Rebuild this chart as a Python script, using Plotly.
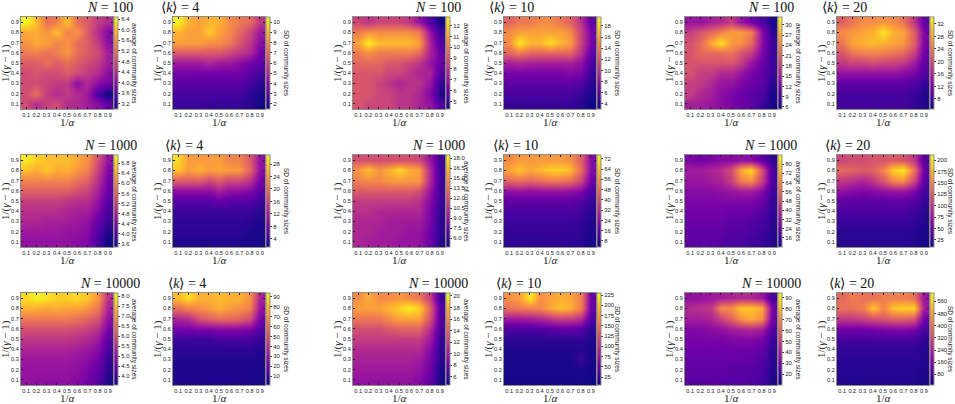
import plotly.graph_objects as go

W, H = 955, 404

# grid of the simulation parameters (1/alpha on x, 1/(gamma-1) on y)
grid = [0.1, 0.2, 0.3, 0.4, 0.5, 0.6, 0.7, 0.8, 0.9]
grid_y = grid[::-1]  # rows of every z array go from 0.9 (top) to 0.1 (bottom)

sizes_N = [100, 1000, 10000]
degrees_k = [4, 10, 20]

# ---- N = 100 ----
avg_n100_k4 = [
    [6.5, 6.0, 5.2, 5.4, 6.0, 5.2, 5.0, 4.6, 4.4],
    [5.8, 5.8, 5.6, 6.0, 5.4, 5.6, 5.0, 4.4, 3.9],
    [5.6, 5.8, 5.7, 5.4, 5.6, 5.2, 5.0, 4.6, 4.0],
    [5.3, 5.4, 5.2, 5.4, 5.6, 5.2, 5.0, 4.8, 4.2],
    [5.0, 5.0, 5.2, 5.0, 5.2, 5.0, 4.8, 4.6, 4.2],
    [4.8, 4.9, 4.8, 4.8, 5.0, 4.8, 4.6, 4.4, 4.0],
    [4.8, 4.8, 4.7, 4.6, 4.6, 4.0, 4.4, 4.0, 3.8],
    [4.8, 5.2, 4.6, 4.4, 4.6, 4.4, 4.2, 3.4, 3.0],
    [4.8, 4.4, 4.7, 4.8, 4.4, 4.4, 4.2, 4.0, 3.6],
]
sd_n100_k4 = [
    [10.4, 9.0, 8.5, 9.0, 9.0, 8.0, 7.5, 7.0, 5.5],
    [9.0, 8.5, 8.5, 9.5, 8.5, 8.0, 7.0, 6.0, 4.5],
    [8.5, 8.5, 8.5, 8.0, 8.0, 7.5, 6.5, 5.5, 4.0],
    [6.5, 6.5, 6.5, 6.5, 6.5, 6.0, 5.5, 5.0, 3.5],
    [4.5, 4.5, 4.5, 5.0, 4.5, 4.5, 4.0, 3.5, 3.0],
    [3.5, 3.5, 3.5, 3.5, 3.5, 3.5, 3.5, 3.0, 2.5],
    [3.0, 3.0, 3.0, 3.0, 3.0, 3.0, 3.0, 2.5, 2.0],
    [2.5, 2.5, 2.5, 2.5, 2.5, 2.5, 2.5, 2.0, 1.8],
    [2.3, 2.3, 2.3, 2.3, 2.2, 2.2, 2.2, 2.0, 1.6],
]
avg_n100_k10 = [
    [8.5, 8.0, 8.5, 8.5, 8.5, 8.0, 7.0, 5.5, 4.4],
    [10.0, 10.5, 10.5, 10.5, 10.5, 10.5, 10.0, 7.0, 5.0],
    [11.0, 12.6, 11.5, 11.5, 11.5, 11.5, 11.0, 7.5, 5.5],
    [10.0, 10.5, 10.0, 10.0, 10.0, 10.0, 9.5, 7.5, 6.0],
    [9.5, 9.5, 9.5, 9.0, 9.0, 8.5, 8.0, 7.0, 6.0],
    [9.0, 9.0, 9.0, 8.5, 8.5, 8.0, 7.5, 7.5, 5.5],
    [9.0, 9.0, 8.5, 8.0, 7.5, 8.0, 8.0, 7.0, 5.0],
    [9.0, 9.0, 8.5, 8.5, 8.0, 8.0, 7.5, 6.5, 4.6],
    [9.0, 8.5, 8.5, 8.5, 8.0, 8.0, 7.5, 7.0, 5.5],
]
sd_n100_k10 = [
    [13, 14, 14, 15, 15, 14, 13, 10, 6],
    [15, 16, 16, 16, 16, 16, 15, 11, 7],
    [15, 19, 17, 17, 18.5, 17, 16, 11, 7],
    [13, 14, 13, 13, 13, 13, 13, 10, 6],
    [9, 9.5, 9, 9, 9, 9, 9, 8, 5],
    [7, 7, 7, 7, 7, 7, 7.5, 7, 4.5],
    [6, 6, 6, 6, 6, 6, 6, 5.5, 4],
    [5, 5, 5, 5, 5, 5, 5, 4.5, 3.5],
    [4.5, 4.5, 4.5, 4.5, 4.5, 4.5, 4.5, 4, 3.2],
]
avg_n100_k20 = [
    [14, 14, 15, 16, 18, 14, 11, 9, 6],
    [18, 20, 22, 24, 26, 26, 24, 13, 7],
    [20, 22, 27, 31, 26, 25, 22, 13, 8],
    [20, 22, 22, 22, 23, 20, 18, 12, 8],
    [20, 20, 20, 20, 20, 18, 14, 11, 8],
    [20, 18, 18, 16, 16, 14, 12, 10, 8],
    [18, 18, 16, 14, 14, 12, 11, 10, 7],
    [18, 16, 15, 13, 12, 11, 10, 9, 6],
    [15, 15, 14, 13, 12, 11, 10, 8, 6],
]
sd_n100_k20 = [
    [22, 24, 26, 26, 27, 26, 24, 18, 10],
    [26, 27, 28, 29, 33, 29, 28, 22, 12],
    [24, 28, 29, 30, 29, 28, 27, 22, 12],
    [21, 24, 25, 25, 25, 24, 23, 19, 11],
    [18, 19, 19, 20, 19, 19, 18, 15, 10],
    [14, 14, 14, 14, 14, 14, 13, 12, 9],
    [10, 10, 10, 10, 10, 10, 10, 9, 7],
    [8, 8, 8, 8, 8, 8, 8, 7.5, 6],
    [8, 8, 8, 8, 8, 8, 8, 7, 6],
]

# ---- N = 1000 ----
avg_n1000_k4 = [
    [7.0, 6.8, 6.6, 6.6, 6.6, 6.4, 6.2, 5.4, 4.6],
    [6.6, 6.4, 6.7, 6.4, 6.5, 6.2, 6.0, 5.2, 4.4],
    [6.0, 6.0, 6.0, 6.0, 6.0, 5.8, 5.6, 5.0, 4.3],
    [5.6, 5.6, 5.6, 5.6, 5.6, 5.4, 5.3, 4.8, 4.2],
    [5.2, 5.2, 5.2, 5.2, 5.1, 5.0, 5.0, 4.6, 4.0],
    [5.0, 5.0, 5.0, 5.0, 4.9, 4.8, 4.8, 4.4, 3.9],
    [4.9, 4.9, 4.8, 4.8, 4.8, 4.7, 4.6, 4.2, 3.8],
    [4.7, 4.7, 4.7, 4.7, 4.6, 4.6, 4.5, 4.0, 3.6],
    [4.6, 4.6, 4.6, 4.6, 4.6, 4.5, 4.4, 3.9, 3.5],
]
sd_n1000_k4 = [
    [29, 24, 24, 24, 24, 22, 22, 18, 10],
    [27, 24, 26, 24, 25, 24, 24, 19, 10],
    [18, 18, 18, 16, 18, 16, 16, 14, 8],
    [10, 10, 10, 10, 12, 10, 10, 9, 6],
    [6, 6, 6, 6, 7, 6, 6, 6, 4],
    [4, 4, 4, 4, 4, 4, 4, 4, 3],
    [3.5, 3.5, 3.5, 3.5, 3.5, 3.5, 3.5, 3, 2.5],
    [3, 3, 3, 3, 3, 3, 3, 2.5, 2],
    [2.5, 2.5, 2.5, 2.5, 2.5, 2.5, 2.5, 2.2, 2],
]
avg_n1000_k10 = [
    [12, 12, 12, 12, 12, 12, 11.5, 9, 6],
    [15, 16.5, 15, 16, 17.5, 16, 15.5, 10, 6],
    [14, 14.5, 14.5, 15, 15, 15, 15, 10, 6],
    [12.5, 12.5, 12.5, 12.5, 12.5, 12.5, 12, 9, 6],
    [11, 11, 11, 11, 11, 11, 10.5, 8.5, 6],
    [10.5, 10.5, 10, 10, 10, 10, 10, 8, 5.5],
    [10, 10, 10, 9.5, 9.5, 9.5, 9.5, 8, 5.5],
    [10, 10, 9.5, 9.5, 9.5, 9, 9, 7.5, 5.5],
    [10, 9.5, 9.5, 9.5, 9, 9, 9, 7.5, 5.2],
]
sd_n1000_k10 = [
    [55, 58, 58, 58, 58, 58, 56, 45, 22],
    [60, 66, 60, 64, 68, 68, 64, 48, 22],
    [46, 48, 46, 48, 50, 50, 48, 38, 18],
    [25, 26, 25, 26, 26, 26, 25, 22, 12],
    [16, 16, 16, 16, 16, 16, 16, 14, 9],
    [12, 12, 12, 12, 12, 12, 12, 11, 7],
    [10, 10, 10, 10, 10, 10, 10, 9, 6],
    [9, 9, 9, 9, 9, 9, 9, 8, 5],
    [8, 8, 8, 8, 8, 8, 8, 7, 5],
]
avg_n1000_k20 = [
    [28, 26, 28, 30, 30, 32, 30, 22, 14],
    [36, 36, 38, 42, 50, 72, 82, 50, 18],
    [34, 34, 36, 38, 46, 62, 66, 46, 18],
    [30, 30, 30, 32, 34, 36, 36, 30, 16],
    [28, 28, 28, 28, 28, 28, 28, 24, 15],
    [26, 26, 26, 26, 24, 24, 24, 20, 14],
    [24, 24, 24, 24, 22, 22, 20, 18, 13],
    [22, 22, 22, 22, 20, 20, 18, 16, 12],
    [22, 22, 22, 20, 18, 18, 16, 15, 12],
]
sd_n1000_k20 = [
    [110, 115, 115, 120, 120, 125, 120, 100, 40],
    [135, 130, 125, 130, 150, 190, 205, 140, 50],
    [100, 95, 85, 100, 120, 150, 155, 110, 40],
    [70, 65, 60, 65, 70, 75, 75, 60, 30],
    [45, 45, 45, 45, 45, 45, 45, 40, 25],
    [35, 35, 35, 35, 35, 35, 35, 30, 20],
    [28, 28, 28, 28, 28, 28, 28, 25, 18],
    [22, 22, 22, 22, 22, 22, 22, 20, 15],
    [20, 20, 20, 20, 20, 20, 20, 18, 14],
]

# ---- N = 10000 ----
avg_n10000_k4 = [
    [7.8, 8.1, 7.9, 7.7, 7.7, 7.8, 7.6, 7.0, 5.5],
    [7.4, 7.3, 7.2, 7.3, 7.2, 7.2, 7.0, 6.6, 5.2],
    [6.6, 6.6, 6.6, 6.6, 6.6, 6.5, 6.3, 6.0, 4.9],
    [6.0, 6.0, 6.0, 6.0, 6.0, 5.9, 5.8, 5.5, 4.6],
    [5.6, 5.6, 5.6, 5.6, 5.6, 5.5, 5.4, 5.1, 4.3],
    [5.3, 5.3, 5.3, 5.3, 5.3, 5.2, 5.1, 4.8, 4.1],
    [5.1, 5.1, 5.1, 5.1, 5.1, 5.0, 4.9, 4.6, 3.9],
    [5.0, 5.0, 5.0, 5.0, 5.0, 4.9, 4.7, 4.4, 3.8],
    [5.0, 4.9, 4.9, 4.9, 4.9, 4.8, 4.6, 4.3, 3.7],
]
sd_n10000_k4 = [
    [80, 88, 78, 78, 80, 78, 78, 70, 35],
    [60, 66, 68, 72, 78, 72, 70, 65, 30],
    [36, 38, 50, 55, 58, 58, 56, 48, 22],
    [22, 22, 24, 24, 26, 26, 26, 24, 14],
    [10, 10, 10, 10, 12, 12, 12, 12, 8],
    [7, 7, 7, 7, 7, 7, 7, 7, 5],
    [5, 5, 5, 5, 5, 5, 5, 5, 4],
    [4, 4, 4, 4, 4, 4, 4, 4, 3],
    [4, 4, 4, 4, 4, 4, 4, 4, 3],
]
avg_n10000_k10 = [
    [16, 17.5, 16, 16, 16.5, 16, 15, 12, 6],
    [17, 17, 17, 18, 19, 20.2, 19, 14, 7],
    [15, 15, 15, 16, 17, 17, 17, 13, 7],
    [13, 13, 13, 13.5, 14, 14, 14, 11, 6.5],
    [12, 12, 12, 12, 12, 12, 12, 10, 6],
    [11, 11, 11, 11, 11, 11, 11, 9, 5.5],
    [10.5, 10.5, 10.5, 10.5, 10.5, 10.5, 10, 8.5, 5.5],
    [10, 10, 10, 10, 10, 10, 9.5, 8, 5],
    [9.5, 9.5, 9.5, 9.5, 9.5, 9.5, 9, 7.5, 5],
]
sd_n10000_k10 = [
    [170, 180, 222, 170, 180, 190, 185, 160, 50],
    [150, 155, 160, 165, 185, 198, 190, 160, 50],
    [80, 80, 85, 90, 100, 110, 110, 95, 35],
    [35, 35, 35, 35, 40, 45, 45, 40, 20],
    [20, 20, 20, 20, 22, 22, 22, 22, 14],
    [14, 14, 14, 14, 14, 14, 14, 16, 10],
    [12, 12, 12, 12, 12, 12, 12, 25, 9],
    [10, 10, 10, 10, 10, 10, 10, 12, 8],
    [9, 9, 9, 9, 9, 9, 9, 10, 7],
]
avg_n10000_k20 = [
    [36, 36, 38, 40, 42, 44, 44, 38, 20],
    [44, 46, 48, 70, 72, 84, 84, 78, 30],
    [40, 40, 42, 50, 60, 72, 78, 70, 28],
    [32, 32, 34, 36, 40, 42, 44, 40, 22],
    [30, 30, 30, 30, 32, 32, 32, 30, 18],
    [28, 28, 28, 28, 28, 28, 28, 26, 16],
    [26, 26, 26, 26, 26, 26, 25, 23, 15],
    [25, 25, 25, 25, 24, 24, 23, 21, 14],
    [24, 24, 24, 24, 23, 23, 22, 20, 13],
]
sd_n10000_k20 = [
    [380, 420, 400, 400, 420, 420, 420, 400, 200],
    [400, 400, 420, 540, 440, 540, 560, 560, 220],
    [280, 280, 300, 320, 340, 360, 360, 340, 140],
    [140, 140, 140, 150, 160, 170, 170, 160, 80],
    [80, 80, 80, 80, 85, 85, 85, 80, 50],
    [55, 55, 55, 55, 55, 55, 55, 55, 40],
    [45, 45, 45, 45, 45, 45, 45, 45, 35],
    [40, 40, 40, 40, 40, 40, 40, 40, 30],
    [38, 38, 38, 38, 38, 38, 38, 36, 28],
]

# colour ranges and colorbar ticks
range_avg = {
    (100, 4): (3.0, 6.48), (100, 10): (4.3, 12.8), (100, 20): (5.4, 32.3),
    (1000, 4): (3.48, 7.12), (1000, 10): (4.65, 18.45), (1000, 20): (8.2, 87.8),
    (10000, 4): (3.55, 8.15), (10000, 10): (4.6, 20.5), (10000, 20): (10, 94.5),
}
range_sd = {
    (100, 4): (1.5, 10.5), (100, 10): (3.1, 19.6), (100, 20): (4.8, 34.2),
    (1000, 4): (1.4, 30.9), (1000, 10): (3.3, 75), (1000, 20): (9.6, 211),
    (10000, 4): (1.0, 94), (10000, 10): (5.8, 230), (10000, 20): (10, 615),
}
ticks_avg = {
    (100, 4): [3.2, 3.6, 4.0, 4.4, 4.8, 5.2, 5.6, 6.0, 6.4],
    (100, 10): [5, 6, 7, 8, 9, 10, 11, 12],
    (100, 20): [6, 9, 12, 15, 18, 21, 24, 27, 30],
    (1000, 4): [3.6, 4.0, 4.4, 4.8, 5.2, 5.6, 6.0, 6.4, 6.8],
    (1000, 10): [6.0, 7.5, 9.0, 10.5, 12.0, 13.5, 15.0, 16.5, 18.0],
    (1000, 20): [16, 24, 32, 40, 48, 56, 64, 72, 80],
    (10000, 4): [4.0, 4.5, 5.0, 5.5, 6.0, 6.5, 7.0, 7.5, 8.0],
    (10000, 10): [6, 8, 10, 12, 14, 16, 18, 20],
    (10000, 20): [20, 30, 40, 50, 60, 70, 80, 90],
}
ticks_sd = {
    (100, 4): [2, 3, 4, 5, 6, 7, 8, 9, 10],
    (100, 10): [4, 6, 8, 10, 12, 14, 16, 18],
    (100, 20): [8, 12, 16, 20, 24, 28, 32],
    (1000, 4): [4, 8, 12, 16, 20, 24, 28],
    (1000, 10): [8, 16, 24, 32, 40, 48, 56, 64, 72],
    (1000, 20): [25, 50, 75, 100, 125, 150, 175, 200],
    (10000, 4): [10, 20, 30, 40, 50, 60, 70, 80, 90],
    (10000, 10): [25, 50, 75, 100, 125, 150, 175, 200, 225],
    (10000, 20): [80, 160, 240, 320, 400, 480, 560],
}

data = {
    (100, 4): (avg_n100_k4, sd_n100_k4),
    (100, 10): (avg_n100_k10, sd_n100_k10),
    (100, 20): (avg_n100_k20, sd_n100_k20),
    (1000, 4): (avg_n1000_k4, sd_n1000_k4),
    (1000, 10): (avg_n1000_k10, sd_n1000_k10),
    (1000, 20): (avg_n1000_k20, sd_n1000_k20),
    (10000, 4): (avg_n10000_k4, sd_n10000_k4),
    (10000, 10): (avg_n10000_k10, sd_n10000_k10),
    (10000, 20): (avg_n10000_k20, sd_n10000_k20),
}

# pixel layout of the panels
left_avg = [21, 353, 685]
left_sd = [173, 504, 837]
row_top = [17, 155, 293]
side = 92

SERIF = "Liberation Serif"
SANS = "Liberation Sans"
FRAME = "#8c8c8c"


def fx(px):
    return px / W


def fy(py):
    return 1 - py / H


def note(xp, yp, text, size, family, angle=0, color="#222"):
    return dict(x=fx(xp), y=fy(yp), xref="paper", yref="paper", text=text,
                textangle=angle, showarrow=False,
                xanchor="center", yanchor="middle",
                font=dict(family=family, size=size, color=color))


fig = go.Figure()
annotations = []
i = 0
for r, N in enumerate(sizes_N):
    top = row_top[r]
    for g, k in enumerate(degrees_k):
        z_avg, z_sd = data[(N, k)]
        panels = [
            (left_avg[g], z_avg, range_avg[(N, k)], ticks_avg[(N, k)],
             "average of community sizes"),
            (left_sd[g], z_sd, range_sd[(N, k)], ticks_sd[(N, k)],
             "SD of community sizes"),
        ]
        for left, z, zr, ticks, label in panels:
            i += 1
            sfx = "" if i == 1 else str(i)
            fmt = ".1f" if any(t != int(t) for t in ticks) else "d"
            fig.add_trace(go.Heatmap(
                x=grid, y=grid_y, z=z,
                xaxis="x" + sfx, yaxis="y" + sfx,
                colorscale="Plasma", zmin=zr[0], zmax=zr[1],
                zsmooth="best", hoverinfo="skip",
                colorbar=dict(
                    x=fx(left + side + 1), xanchor="left", xpad=0, ypad=0,
                    y=fy(top + side / 2), yanchor="middle",
                    len=side / H, lenmode="fraction", thickness=4,
                    outlinewidth=1, outlinecolor=FRAME,
                    tickvals=ticks, tickformat=fmt,
                    ticks="outside", ticklen=2, tickwidth=0.6,
                    tickcolor="#333",
                    tickfont=dict(size=6, family=SANS, color="#222"),
                ),
            ))
            axis_common = dict(
                range=[0.05, 0.95], tickvals=grid, tickformat=".1f",
                tickangle=0,
                ticks="inside", ticklen=2, tickwidth=0.6, tickcolor="#222",
                showline=True, linecolor=FRAME, linewidth=1, mirror="ticks",
                showgrid=False, zeroline=False,
                tickfont=dict(size=5.6, family=SANS, color="#222"),
            )
            fig.update_layout({
                "xaxis" + sfx: dict(axis_common,
                                    domain=[fx(left), fx(left + side)],
                                    anchor="y" + sfx),
                "yaxis" + sfx: dict(axis_common,
                                    domain=[fy(top + side), fy(top)],
                                    anchor="x" + sfx),
            })
            annotations.append(note(left + side / 2, top + side + 13,
                                    "1/<i>α</i>", 11, SERIF))
            annotations.append(note(left - 16, top + side / 2,
                                    "1/(<i>γ</i> − 1)", 11, SERIF, angle=-90))
            annotations.append(note(left + 113, top + side / 2,
                                    label, 6.5, SANS, angle=90))
        # pair title
        centre = (left_avg[g] + left_sd[g] + side) / 2
        annotations.append(note(
            centre, top - 10,
            f"<i>N</i> = {N}" + "&nbsp;" * 8 + f"⟨<i>k</i>⟩ = {k}",
            14, SERIF, color="#111"))

fig.update_layout(
    width=W, height=H,
    margin=dict(l=0, r=0, t=0, b=0, autoexpand=False),
    paper_bgcolor="white", plot_bgcolor="white",
    showlegend=False, annotations=annotations,
)

# drop the default page margin so the figure sits at the window corner
fig.write_html("out.html", config={"displayModeBar": False},
               post_script="document.body.style.margin = '0';")
